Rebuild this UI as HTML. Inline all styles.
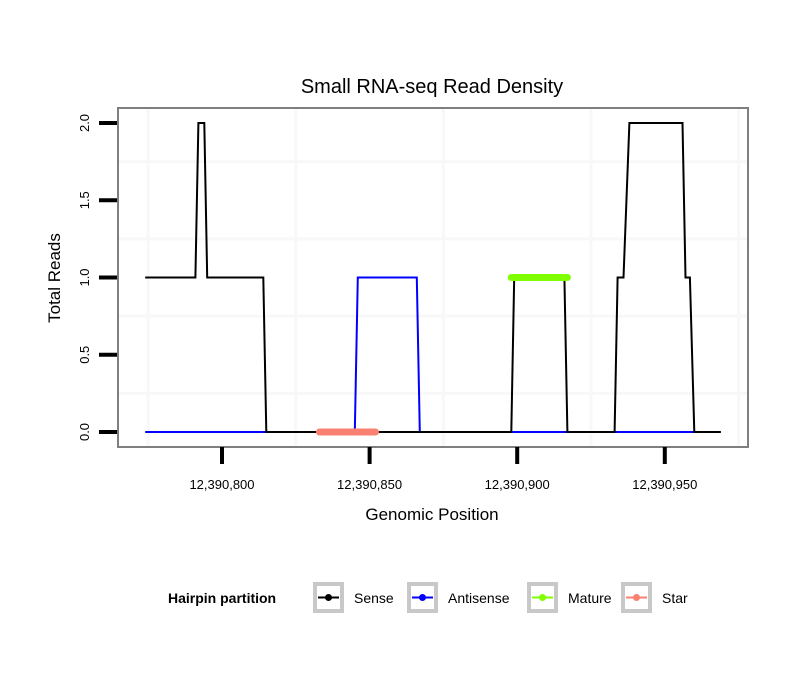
<!DOCTYPE html>
<html><head><meta charset="utf-8"><style>
body{margin:0;background:#fff;font-family:"Liberation Sans",sans-serif}
svg{display:block}
</style></head><body>
<svg id="chart" width="810" height="690">
<rect width="810" height="690" fill="#fff"/>
<text x="432" y="93" font-size="20" text-anchor="middle">Small RNA-seq Read Density</text>
<g id="grid"></g>
<g id="series"></g>
<rect x="118" y="108" width="630" height="339" fill="none" stroke="#7f7f7f" stroke-width="2"/>
<g id="axes"></g>
<text x="432" y="520" font-size="17" text-anchor="middle">Genomic Position</text>
<text transform="translate(60,278) rotate(-90)" font-size="17" text-anchor="middle">Total Reads</text>
<g>
<text x="168" y="603" font-size="14" font-weight="bold">Hairpin partition</text>
<g id="legend"></g>
</g>
</svg>
<script>
const xTicks=[12390800,12390850,12390900,12390950];
const xTickLabels=["12,390,800","12,390,850","12,390,900","12,390,950"];
const yTicks=[0,0.5,1,1.5,2];
const yTickLabels=["0.0","0.5","1.0","1.5","2.0"];
const senseX=[12390774,12390791,12390792,12390794,12390795,12390814,12390815,12390898,12390899,12390916,12390917,12390933,12390934,12390936,12390938,12390956,12390957,12390958.5,12390960,12390969];
const senseY=[1,1,2,2,1,1,0,0,1,1,0,0,1,1,2,2,1,1,0,0];
const antiX=[12390774,12390845,12390846,12390866,12390867,12390960];
const antiY=[0,0,1,1,0,0];
const matureX=[12390898,12390917];
const matureY=[1,1];
const starX=[12390833,12390852];
const starY=[0,0];
const legendLabels=["Sense","Antisense","Mature","Star"];
const legendColors=["#000000","#0000ff","#7fff00","#fa8072"];

const NS="http://www.w3.org/2000/svg";
function sx(v){return 222+(v-12390800)*2.952;}
function sy(v){return 432-v*154.5;}
function mk(tag,attrs,parent){const e=document.createElementNS(NS,tag);for(const k in attrs)e.setAttribute(k,attrs[k]);parent.appendChild(e);return e;}
const grid=document.getElementById('grid'),series=document.getElementById('series'),axes=document.getElementById('axes'),legend=document.getElementById('legend');
mk('rect',{x:118,y:108,width:630,height:339,fill:'#fff'},grid);
for(let i=0;i<xTicks.length+1;i++){const v=xTicks[0]-25+50*i;const g=mk('line',{x1:sx(v),x2:sx(v),y1:108,y2:447,stroke:'#f8f8f8','stroke-width':3},grid);

}
for(let i=0;i<yTicks.length-1;i++){const v=yTicks[i]+0.25;const g=mk('line',{x1:118,x2:748,y1:sy(v),y2:sy(v),stroke:'#f8f8f8','stroke-width':3},grid);

}
function path(xs,ys,color,w,cap,name){const d=xs.map((x,i)=>(i?'L':'M')+sx(x).toFixed(1)+','+sy(ys[i]).toFixed(1)).join('');const p=mk('path',{d:d,fill:'none',stroke:color,'stroke-width':w,'stroke-linecap':cap,'stroke-linejoin':'miter'},series);

}
path(antiX,antiY,'#0000ff',2,'butt','antisense-line');
path(senseX,senseY,'#000',2,'butt','sense-line');
path(matureX,matureY,'#7fff00',7,'round','mature-segment');
path(starX,starY,'#fa8072',7,'round','star-segment');
xTicks.forEach((v,i)=>{const t=mk('line',{x1:sx(v),x2:sx(v),y1:447,y2:464,stroke:'#000','stroke-width':4},axes);


const l=mk('text',{x:sx(v),y:489,'font-size':13,'text-anchor':'middle'},axes);l.textContent=xTickLabels[i];

});
yTicks.forEach((v,i)=>{const t=mk('line',{x1:99,x2:117,y1:sy(v),y2:sy(v),stroke:'#000','stroke-width':4},axes);


const l=mk('text',{transform:'translate(89,'+sy(v)+') rotate(-90)','font-size':13,'text-anchor':'middle'},axes);l.textContent=yTickLabels[i];

});
const boxX=[313,407,527,621];
legendLabels.forEach((lab,i)=>{const g=mk('g',{},legend);


const bx=boxX[i];
mk('rect',{x:bx+2,y:584,width:27,height:27,fill:'#fff',stroke:'#c8c8c8','stroke-width':4},g);
mk('line',{x1:bx+5,x2:bx+26,y1:597.5,y2:597.5,stroke:legendColors[i],'stroke-width':2},g);
mk('circle',{cx:bx+15.5,cy:597.5,r:3.5,fill:legendColors[i]},g);
const t=mk('text',{x:bx+41,y:603,'font-size':14},g);t.textContent=lab;});
</script>
</body></html>
